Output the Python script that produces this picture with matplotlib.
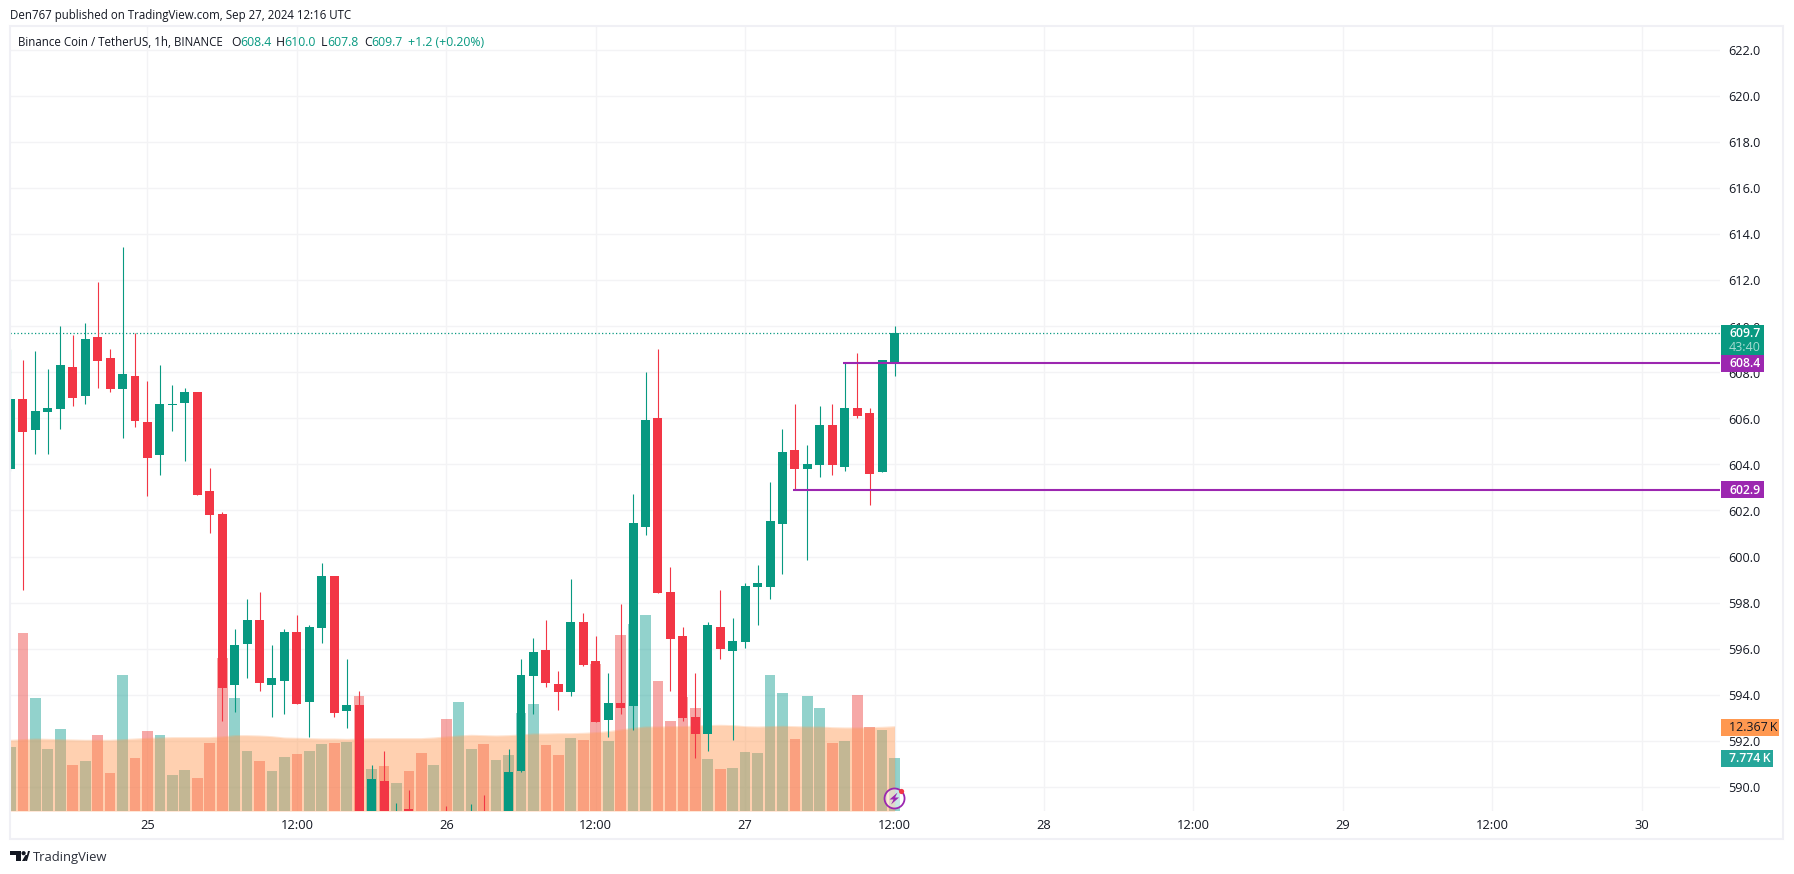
import matplotlib
matplotlib.use("Agg")
import matplotlib.pyplot as plt
from matplotlib.patches import Circle, Polygon, Rectangle

W, H = 1794, 874
UP, DOWN = "#089981", "#F23645"
VOL_UP, VOL_DOWN = "#26a69a", "#ef5350"
MA_COLOR = "#ff9850"
PURPLE = "#9c27b0"
GRID = "#f3f3f5"
FRAME = "#f0f0f5"
TEXT = "#131722"

plt.rcParams["font.family"] = ["Open Sans", "DejaVu Sans"]

# hourly bars, index 0 is Sep 25 00:00
first_bar = -11
opens = [603.8, 606.84, 605.49, 606.28, 606.41, 608.23, 606.97, 609.54, 608.62, 607.28, 607.84,
         605.84, 604.41, 606.58, 606.67, 607.14, 602.84, 601.84, 594.41, 596.19, 597.23, 594.41,
         594.58, 596.71, 593.67, 596.88, 599.14, 593.28, 593.54, 588.6, 590.23, 588.3, 589.01,
         588.5, 588.0, 588.5, 588.0, 588.2, 588.6, 588.3, 588.0, 590.67, 594.8, 595.93, 594.45,
         594.1, 597.14, 595.45, 592.88, 593.62, 593.49, 601.28, 606.01, 598.45, 596.54, 593.01,
         592.28, 596.93, 595.88, 596.28, 598.67, 598.67, 601.41, 604.62, 603.8, 603.97, 605.71,
         603.88, 606.45, 606.23, 603.67, 608.4]
highs = [609.0, 608.54, 608.93, 608.14, 610.01, 609.62, 610.14, 611.93, 609.01, 613.45, 609.71,
         607.62, 608.32, 607.45, 607.32, 607.14, 603.84, 601.93, 596.84, 598.14, 598.45, 596.14,
         596.84, 597.45, 597.01, 599.71, 599.14, 595.54, 594.14, 590.93, 591.54, 589.3, 589.84,
         588.7, 588.6, 589.14, 588.7, 589.23, 589.62, 588.6, 591.62, 595.54, 596.45, 597.23,
         595.01, 599.01, 597.54, 596.54, 594.93, 597.93, 602.71, 608.01, 609.01, 599.54, 596.93,
         594.93, 597.14, 598.54, 597.32, 598.84, 599.62, 603.23, 605.54, 606.62, 604.84, 606.54,
         606.62, 608.45, 608.84, 606.45, 608.54, 610.0]
lows = [603.7, 598.53, 604.45, 604.45, 605.54, 606.54, 606.62, 607.32, 607.14, 605.14, 605.62,
        602.62, 603.54, 605.45, 604.14, 602.67, 601.01, 592.84, 593.23, 594.71, 594.14, 593.01,
        593.14, 593.58, 592.14, 596.23, 593.01, 592.54, 587.9, 587.9, 587.9, 587.9, 587.9,
        587.5, 587.5, 587.5, 587.5, 587.5, 587.5, 587.5, 587.5, 590.62, 593.14, 594.32, 593.32,
        593.93, 595.23, 592.8, 592.14, 593.14, 592.45, 600.93, 598.41, 594.14, 592.84, 591.23,
        591.54, 595.54, 592.01, 596.01, 597.01, 598.14, 599.23, 602.93, 599.84, 603.45, 603.54,
        603.71, 606.01, 602.23, 603.67, 607.84]
closes = [606.84, 605.4, 606.32, 606.45, 608.32, 606.88, 609.45, 608.49, 607.28, 607.93, 605.88,
          604.28, 606.62, 606.62, 607.14, 602.67, 601.8, 594.28, 596.14, 597.23, 594.49, 594.71,
          596.71, 593.58, 596.93, 599.14, 593.19, 593.54, 588.6, 590.32, 588.6, 588.6, 588.6,
          588.3, 588.5, 588.0, 588.5, 588.6, 588.2, 588.6, 590.62, 594.84, 595.84, 594.49,
          594.1, 597.14, 595.28, 592.8, 593.62, 593.41, 601.45, 605.93, 598.41, 596.41, 592.97,
          592.28, 597.01, 595.97, 596.32, 598.71, 598.84, 601.54, 604.54, 603.8, 604.01, 605.71,
          603.97, 606.45, 606.1, 603.58, 608.54, 609.7]
# thousands
volumes = [9.34, 26.06, 16.53, 9.05, 11.98, 6.70, 7.29, 11.10, 5.53, 19.90, 7.73,
           11.69, 11.10, 5.23, 5.97, 4.79, 9.93, 22.40, 16.53, 8.75, 7.29, 5.82,
           7.87, 8.31, 8.75, 9.78, 9.93, 10.07, 16.82, 6.11, 6.55, 4.06, 5.82,
           8.46, 6.70, 13.45, 15.94, 9.10, 9.83, 7.48, 8.22, 14.38, 15.70, 9.68,
           8.22, 10.71, 10.42, 21.56, 10.27, 25.82, 27.43, 28.75, 19.07, 13.20, 16.72,
           15.11, 7.63, 6.16, 6.31, 8.66, 8.51, 19.95, 17.31, 10.56, 16.87, 15.11,
           9.98, 10.27, 17.02, 12.32, 11.88, 7.774]
volume_ma = [10.37, 10.46, 10.56, 10.51, 10.46, 10.42, 10.37, 10.37, 10.37, 10.46, 10.56,
             10.66, 10.71, 10.76, 10.76, 10.76, 10.76, 10.86, 11.05, 11.05, 11.00, 10.90,
             10.71, 10.66, 10.61, 10.56, 10.56, 10.51, 10.56, 10.61, 10.61, 10.61, 10.61,
             10.61, 10.71, 10.86, 11.00, 11.10, 11.05, 11.00, 11.05, 11.15, 11.30, 11.30,
             11.34, 11.34, 11.39, 11.49, 11.64, 11.88, 12.13, 12.32, 12.32, 12.37, 12.37,
             12.47, 12.52, 12.57, 12.52, 12.37, 12.32, 12.37, 12.42, 12.37, 12.32, 12.32,
             12.22, 12.18, 12.18, 12.22, 12.27, 12.367]
# volume bars are coloured by their own flag, several candles sit below the pane
volume_up = [1, 0, 1, 1, 1, 0, 1, 0, 0, 1, 0,
             0, 1, 1, 1, 0, 0, 0, 1, 1, 0, 1,
             1, 0, 1, 1, 0, 1, 0, 1, 0, 1, 0,
             0, 1, 0, 1, 1, 0, 1, 1, 1, 1, 0,
             0, 1, 0, 0, 1, 0, 1, 1, 0, 0, 0,
             0, 1, 0, 1, 1, 1, 1, 1, 0, 1, 1,
             0, 1, 0, 0, 1, 1]

price_ticks = list(range(590, 623, 2))
time_ticks = [0, 12, 24, 36, 48, 60, 72, 84, 96, 108, 120]
time_labels = ["25", "12:00", "26", "12:00", "27", "12:00", "28", "12:00", "29", "12:00", "30"]
last_price = 609.7
level_high, level_high_start = 608.4, 56
level_low, level_low_start = 602.9, 52

bars = list(range(first_bar, first_bar + len(opens)))
fig = plt.figure(figsize=((W + 0.1) / 100, (H + 0.1) / 100), dpi=100, facecolor="white")
rect = [10 / W, 1 - 811 / H, 1710 / W, 785 / H]
x_range = (-11.04, 126.3)
y_range = (588.94, 623.06)

# grid sits behind the volume pane
bg = fig.add_axes(rect, zorder=0)
bg.set_xlim(*x_range)
bg.set_ylim(*y_range)
bg.set_xticks(time_ticks, [])
bg.set_yticks(price_ticks, [])
bg.tick_params(length=0)
bg.grid(True, color=GRID, lw=1.0)
for s in bg.spines.values():
    s.set_visible(False)

# volume pane goes under the candles
vol_ax = fig.add_axes(rect, zorder=1)
vol_ax.set_xlim(*x_range)
vol_ax.set_ylim(0, 785 / 6.817)
vol_ax.axis("off")
vol_colors = [VOL_UP if u else VOL_DOWN for u in volume_up]
vol_ax.bar(bars, volumes, width=0.86, color=vol_colors, alpha=0.5, linewidth=0)
vol_ax.fill_between(bars, volume_ma, color=MA_COLOR, alpha=0.45, linewidth=0)
vol_ax.plot(bars, volume_ma, color=MA_COLOR, alpha=0.25, lw=0.8)

ax = fig.add_axes(rect, zorder=2)
ax.patch.set_alpha(0)
ax.set_xlim(*x_range)
ax.set_ylim(*y_range)
for s in ax.spines.values():
    s.set_visible(False)
ax.set_yticks(price_ticks, [f"{p:.1f}" for p in price_ticks])
ax.set_xticks(time_ticks, time_labels)
ax.yaxis.tick_right()
ax.tick_params(axis="y", length=0, pad=5.6, labelsize=9.1, labelcolor=TEXT)
ax.tick_params(axis="x", length=0, pad=6, labelsize=9.3, labelcolor=TEXT)

colors = [UP if c >= o else DOWN for o, c in zip(opens, closes)]
ax.vlines(bars, lows, highs, colors=colors, lw=0.8, zorder=3)
bottoms = [min(o, c) for o, c in zip(opens, closes)]
heights = [max(abs(c - o), 0.06) for o, c in zip(opens, closes)]
ax.bar(bars, heights, bottom=bottoms, width=0.72, color=colors, linewidth=0, zorder=4)

ax.axhline(last_price, color=UP, lw=0.9, ls=(0, (1, 1.8)), zorder=2)
ax.hlines(level_high, level_high_start - 0.15, x_range[1], color=PURPLE, lw=1.5, zorder=5)
ax.hlines(level_low, level_low_start - 0.15, x_range[1], color=PURPLE, lw=1.5, zorder=5)

# overlay in pixels for frame, tags, captions
ov = fig.add_axes([0, 0, 1, 1], zorder=5)
ov.set_xlim(0, W)
ov.set_ylim(H, 0)
ov.axis("off")
ov.patch.set_alpha(0)


def price_y(p):
    return H - ax.transData.transform((0, p))[1]


def tag(y0, y1, x1, color):
    ov.add_patch(Rectangle((1721, y0), x1 - 1721, y1 - y0, color=color, lw=0))


ov.add_patch(Rectangle((10, 26), 1773, 813, fill=False, ec=FRAME, lw=1.5))

tag(325, 356, 1764, UP)
ov.text(1729, 333.5, f"{last_price:.1f}", color="white", fontsize=8.8, weight="semibold", va="center")
ov.text(1729, 347.5, "43:40", color="#a6dcd2", fontsize=9, va="center")
for level in (level_high, level_low):
    y = price_y(level)
    tag(y - 8.3, y + 8.7, 1764, PURPLE)
    ov.text(1729, y + 0.3, f"{level:.1f}", color="white", fontsize=8.8, weight="semibold", va="center")
tag(719, 736, 1779, MA_COLOR)
ov.text(1729, 727.5, "12.367\u2009K", color=TEXT, fontsize=8.9, va="center")
tag(750, 767, 1773, VOL_UP)
ov.text(1729, 758.5, "7.774\u2009K", color="white", fontsize=8.8, weight="semibold", va="center")

ov.text(10, 15, "Den767 published on TradingView.com, Sep 27, 2024 12:16 UTC", color=TEXT,
        fontsize=8.3, va="center")
ov.text(18, 42, "Binance Coin / TetherUS, 1h, BINANCE", color=TEXT, fontsize=8.3, va="center")
legend_parts = [(231, "O", TEXT), (240, "608.4", UP), (276, "H", TEXT), (284, "610.0", UP),
                (321, "L", TEXT), (327, "607.8", UP), (364, "C", TEXT), (371, "609.7", UP),
                (408, "+1.2 (+0.20%)", UP)]
for x, s, c in legend_parts:
    ov.text(x, 42, s, color=c, fontsize=8.8, va="center")

# TradingView mark
ov.add_patch(Polygon([(10, 851), (21, 851), (21, 861), (15.5, 861), (15.5, 855.5), (10, 855.5)],
                     color=TEXT, lw=0))
ov.add_patch(Circle((23.6, 853.2), 2.1, color=TEXT, lw=0))
ov.add_patch(Polygon([(25.5, 861), (28, 851), (30, 851), (27, 861)], color=TEXT, lw=0))
ov.add_patch(Polygon([(22, 861), (25.5, 855), (28, 855), (25.5, 861)], color=TEXT, lw=0))
ov.text(33, 857, "TradingView", color="#2a2e39", fontsize=9.4, va="center")

# bolt badge
ov.add_patch(Circle((894.5, 798.5), 10, fc=(1, 1, 1, 0.5), ec=PURPLE, lw=1.3))
ov.add_patch(Polygon([(897.5, 792.5), (889.5, 799.5), (893.5, 799.5), (891, 804.5),
                      (899, 797.5), (895, 797.5)], color=PURPLE, lw=0))
ov.add_patch(Circle((901.5, 791.5), 2.6, color=DOWN, lw=0))

fig.savefig("out.png", dpi=100, facecolor="white")
